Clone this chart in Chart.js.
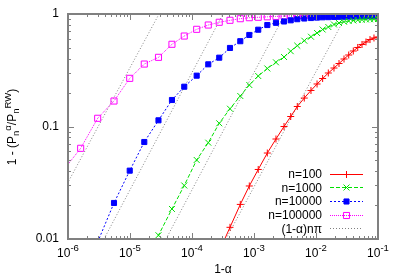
<!DOCTYPE html>
<html><head><meta charset="utf-8">
<script src="https://cdn.jsdelivr.net/npm/chart.js@4/dist/chart.umd.min.js"></script>
<style>html,body{margin:0;padding:0;background:#fff;overflow:hidden}</style>
</head><body>
<canvas id="c" width="399" height="279"></canvas>
<script>
// ---- data ----
const oneMinusAlpha = [8.3e-7, 1.60e-6, 3.01e-6, 5.52e-6, 9.9e-6, 1.70e-5, 2.88e-5, 4.75e-5, 7.5e-5, 1.19e-4,
  1.83e-4, 2.75e-4, 4.10e-4, 6.01e-4, 8.40e-4, 1.17e-3, 1.64e-3, 2.26e-3, 3.05e-3, 3.91e-3,
  4.99e-3, 6.47e-3, 8.30e-3, 1.04e-2, 1.28e-2, 1.58e-2, 1.95e-2, 2.35e-2, 2.83e-2, 3.37e-2,
  4.00e-2, 4.71e-2, 5.52e-2, 6.40e-2, 7.43e-2, 8.61e-2, 0.1];
const n100 = [null, null, null, null, null, null, null, null, null, null,
  null, 0.0078, 0.0127, 0.0203, 0.0296, 0.0415, 0.0581, 0.0774, 0.100, 0.1227,
  0.1506, 0.179, 0.209, 0.2387, 0.267, 0.299, 0.331, 0.363, 0.398, 0.432,
  0.469, 0.504, 0.536, 0.564, 0.593, 0.612, 0.625];
const n1000 = [null, null, null, null, null, 0.0061, 0.0108, 0.0185, 0.0299, 0.0504,
  0.0718, 0.1068, 0.1439, 0.1867, 0.2338, 0.2812, 0.328, 0.372, 0.4148, 0.467,
  0.523, 0.579, 0.628, 0.678, 0.728, 0.766, 0.807, 0.832, 0.854, 0.866,
  0.876, 0.884, 0.890, 0.894, 0.897, 0.899, 0.903];
const n10000 = [null, null, 0.0094, 0.0209, 0.0405, 0.0728, 0.1135, 0.172, 0.2258, 0.283,
  0.357, 0.409, 0.499, 0.573, 0.651, 0.725, 0.798, 0.835, 0.858, 0.879,
  0.899, 0.912, 0.921, 0.929, 0.935, 0.938, 0.942, 0.944, 0.946, 0.948,
  0.950, 0.952, 0.954, 0.954, 0.956, 0.956, 0.958];
const n100000 = [0.0405, 0.064, 0.1183, 0.1685, 0.268, 0.359, 0.412, 0.538, 0.637, 0.731,
  0.798, 0.844, 0.879, 0.908, 0.927, 0.935, 0.944, 0.952, 0.958, 0.964,
  0.968, 0.970, 0.972, 0.974, 0.976, 0.976, 0.978, 0.978, 0.980, 0.980,
  0.980, 0.982, 0.982, 0.982, 0.982, 0.984, 0.984];
// reference lines (1-α)nπ : end points (x at y=0.01 and at y=1)
const refY = [0.01, 1];
const ref100X = [3.53e-4, 3.16e-2];
const ref1000X = [3.81e-5, 3.16e-3];
const ref10000X = [3.81e-6, 3.16e-4];
const ref100000X = [3.2e-7, 2.94e-5];
// ticks
const xTickValues = [1e-6, 1e-5, 1e-4, 1e-3, 1e-2, 1e-1];
const xTickExps = ['-6', '-5', '-4', '-3', '-2', '-1'];
const yTickValues = [0.01, 0.1, 1];
const yTickLabels = ['0.01', '0.1', '1'];
const legendLabels = ['n=100', 'n=1000', 'n=10000', 'n=100000', '(1-\u03b1)n\u03c0'];

const FONT = '"Liberation Sans", Arial, Helvetica, sans-serif';
const pts = (xs, ys) => xs.map((x, i) => ({x: x, y: ys[i]}));

const styles = [
  {color: '#ff0000', dash: [], pointStyle: 'cross', r: 3.5, fill: '#ff0000'},
  {color: '#00e000', dash: [4, 2], pointStyle: 'crossRot', r: 4.2, fill: '#00e000'},
  {color: '#0000ff', dash: [2, 2], pointStyle: 'rect', r: 3.6, fill: '#0000ff'},
  {color: '#ff00ff', dash: [1, 1], pointStyle: 'rect', r: 4.3, fill: 'rgba(255,255,255,0)'},
  {color: '#808080', dash: [1, 2], pointStyle: false, r: 0, fill: 'rgba(0,0,0,0)'}
];

function seriesDS(label, data, s) {
  return {label: label, data: pts(oneMinusAlpha, data), borderColor: s.color, backgroundColor: s.fill,
    borderWidth: 1, borderDash: s.dash, pointStyle: s.pointStyle, pointRadius: s.r,
    pointBorderColor: s.color, pointBackgroundColor: s.fill, pointBorderWidth: 1, spanGaps: false, tension: 0};
}
function refDS(xs) {
  const s = styles[4];
  return {label: legendLabels[4], data: pts(xs, refY), borderColor: s.color, borderWidth: 1,
    borderDash: s.dash, pointRadius: 0, tension: 0};
}

const SUP = 9.6;
const gp = {
  id: 'gp',
  afterDraw(chart) {
    const ctx = chart.ctx, xs = chart.scales.x, ys = chart.scales.y, a = chart.chartArea;
    ctx.save();
    // ticks
    ctx.strokeStyle = '#808080'; ctx.lineWidth = 1; ctx.setLineDash([]);
    ctx.beginPath();
    for (let e = -6; e <= -1; e++) {
      for (let m = 1; m < 10; m++) {
        if (e === -1 && m > 1) break;
        const px = Math.round(xs.getPixelForValue(m * Math.pow(10, e))) + 0.5;
        const L = m === 1 ? 6 : 3;
        ctx.moveTo(px, a.bottom); ctx.lineTo(px, a.bottom - L);
        ctx.moveTo(px, a.top); ctx.lineTo(px, a.top + L);
      }
    }
    for (let e = -2; e <= 0; e++) {
      for (let m = 1; m < 10; m++) {
        if (e === 0 && m > 1) break;
        const py = Math.round(ys.getPixelForValue(m * Math.pow(10, e))) + 0.5;
        const L = m === 1 ? 6 : 3;
        ctx.moveTo(a.left, py); ctx.lineTo(a.left + L, py);
        ctx.moveTo(a.right, py); ctx.lineTo(a.right - L, py);
      }
    }
    ctx.stroke();
    // frame
    ctx.lineWidth = 2;
    ctx.strokeRect(a.left, a.top, a.right - a.left, a.bottom - a.top);

    ctx.fillStyle = '#000';
    // y tick labels
    ctx.font = '12px ' + FONT; ctx.textAlign = 'right'; ctx.textBaseline = 'middle';
    yTickValues.forEach((v, i) => ctx.fillText(yTickLabels[i], a.left - 9, ys.getPixelForValue(v)));
    // x tick labels: 10^exp
    ctx.textBaseline = 'alphabetic'; ctx.textAlign = 'left';
    xTickValues.forEach((v, i) => {
      ctx.font = '12px ' + FONT; const w1 = ctx.measureText('10').width;
      ctx.font = SUP + 'px ' + FONT; const w2 = ctx.measureText(xTickExps[i]).width;
      const x0 = xs.getPixelForValue(v) - (w1 + w2) / 2;
      ctx.font = '12px ' + FONT; ctx.fillText('10', x0, a.bottom + 18);
      ctx.font = SUP + 'px ' + FONT; ctx.fillText(xTickExps[i], x0 + w1, a.bottom + 12);
    });
    // x title
    ctx.font = '12px ' + FONT; ctx.textAlign = 'center';
    ctx.fillText('1-\u03b1', (a.left + a.right) / 2, 273);
    // y title (rotated, with sub/superscripts, sequential like gnuplot enhanced text)
    const parts = [['1 - (P', 0, 12], ['n', 3, SUP], ['\u03b1', -5, SUP], ['/P', 0, 12], ['n', 3, SUP], ['RW', -5, SUP], [')', 0, 12]];
    const widths = parts.map(p => { ctx.font = p[2] + 'px ' + FONT; return ctx.measureText(p[0]).width; });
    const total = widths.reduce((s, w) => s + w, 0);
    ctx.save();
    ctx.translate(16, 127); ctx.rotate(-Math.PI / 2);
    ctx.textAlign = 'left';
    let x = -total / 2;
    parts.forEach((p, i) => {
      ctx.font = p[2] + 'px ' + FONT;
      ctx.fillText(p[0], x, p[1]);
      x += widths[i];
    });
    ctx.restore();
    // legend
    const lx1 = 330, lx2 = 363, tx = 322;
    legendLabels.forEach((lab, i) => {
      const y = 173.5 + i * 13.7;
      const s = styles[i];
      ctx.font = '12px ' + FONT; ctx.textAlign = 'right'; ctx.textBaseline = 'middle'; ctx.fillStyle = '#000';
      ctx.fillText(lab, tx, y + 1);
      ctx.strokeStyle = s.color; ctx.lineWidth = 1; ctx.setLineDash(s.dash);
      ctx.beginPath(); ctx.moveTo(lx1, Math.round(y) + 0.5); ctx.lineTo(lx2, Math.round(y) + 0.5); ctx.stroke();
      ctx.setLineDash([]);
      if (s.pointStyle) {
        ctx.fillStyle = s.fill; ctx.strokeStyle = s.color; ctx.lineWidth = 1;
        Chart.helpers.drawPoint(ctx, {pointStyle: s.pointStyle, radius: s.r, borderWidth: 1, rotation: 0},
          (lx1 + lx2) / 2, Math.round(y) + 0.5);
      }
    });
    ctx.restore();
  }
};

new Chart(document.getElementById('c'), {
  type: 'line',
  data: {
    datasets: [
      seriesDS(legendLabels[0], n100, styles[0]),
      seriesDS(legendLabels[1], n1000, styles[1]),
      seriesDS(legendLabels[2], n10000, styles[2]),
      seriesDS(legendLabels[3], n100000, styles[3]),
      refDS(ref100X), refDS(ref1000X), refDS(ref10000X), refDS(ref100000X)
    ]
  },
  options: {
    responsive: false, animation: false, devicePixelRatio: 1,
    layout: {padding: {left: 68, right: 21, top: 14, bottom: 40}},
    plugins: {legend: {display: false}, tooltip: {enabled: false}, title: {display: false}},
    scales: {
      x: {type: 'logarithmic', min: 1e-6, max: 0.1, display: false},
      y: {type: 'logarithmic', min: 0.01, max: 1, display: false}
    }
  },
  plugins: [gp]
});
</script>
</body></html>
